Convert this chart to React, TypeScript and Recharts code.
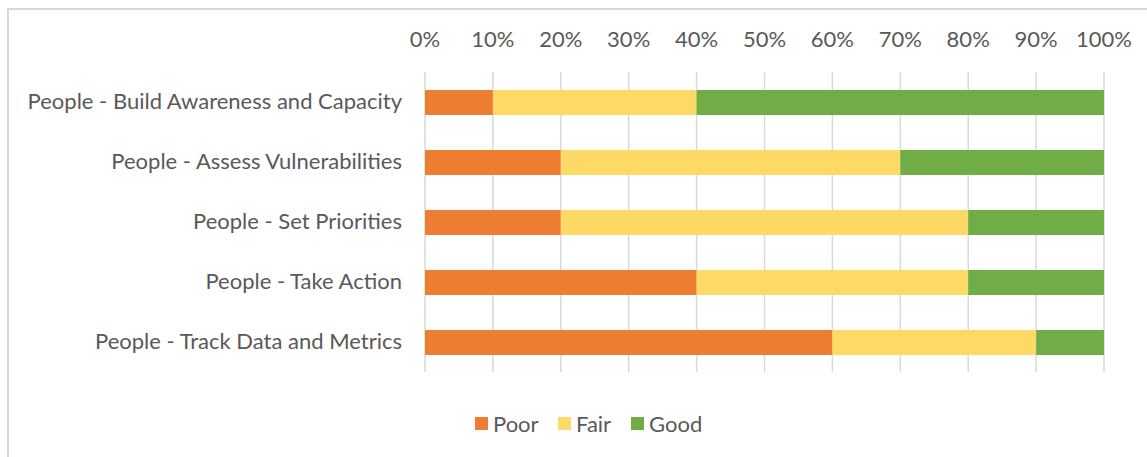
import React from "react";
import { BarChart, Bar, XAxis, YAxis, CartesianGrid } from "recharts";

const categories = [
  "People - Build Awareness and Capacity",
  "People - Assess Vulnerabilities",
  "People - Set Priorities",
  "People - Take Action",
  "People - Track Data and Metrics",
];
const poor = [10, 20, 20, 40, 60];
const fair = [30, 50, 60, 40, 30];
const good = [60, 30, 20, 20, 10];
const xTicks = [0, 10, 20, 30, 40, 50, 60, 70, 80, 90, 100];

const seriesNames = ["Poor", "Fair", "Good"];
const seriesKeys = ["poor", "fair", "good"];
const seriesColors = ["#ED7D31", "#FFD966", "#70AD47"];
const legendX = [475, 558, 631];

const data = categories.map((name, i) => ({
  name,
  poor: poor[i],
  fair: fair[i],
  good: good[i],
}));

const FONT = "Lato, 'Open Sans', sans-serif";
const TEXT = "#595959";

export default function App() {
  return (
    <div
      style={{
        position: "absolute",
        left: 0,
        top: 0,
        width: 1147,
        height: 457,
        overflow: "hidden",
        background: "#fff",
        fontFamily: FONT,
      }}
    >
      <div
        style={{
          position: "absolute",
          left: 7,
          top: 8,
          width: 1300,
          height: 600,
          border: "2px solid #d9d9d9",
        }}
      />
      <div style={{ position: "absolute", left: 0, top: 0 }}>
        <BarChart
          width={1147}
          height={457}
          data={data}
          layout="vertical"
          margin={{ top: 32, right: 43, bottom: 85, left: 0 }}
          barSize={25}
        >
          <CartesianGrid horizontal={false} stroke="#d9d9d9" strokeWidth={1.5} />
          <XAxis
            type="number"
            orientation="top"
            domain={[0, 100]}
            ticks={xTicks}
            tickFormatter={(v) => `${v}%`}
            axisLine={false}
            tickLine={false}
            tickSize={0}
            tickMargin={25}
            height={40}
            interval={0}
            tick={{ fill: TEXT, fontSize: 22, fontFamily: FONT }}
          />
          <YAxis
            type="category"
            dataKey="name"
            width={425}
            axisLine={false}
            tickLine={false}
            tickSize={0}
            tickMargin={23}
            interval={0}
            tick={{ fill: TEXT, fontSize: 22, fontFamily: FONT, dy: -1 }}
          />
          {seriesKeys.map((k, i) => (
            <Bar
              key={k}
              dataKey={k}
              name={seriesNames[i]}
              stackId="a"
              fill={seriesColors[i]}
              isAnimationActive={false}
            />
          ))}
        </BarChart>
      </div>
      {seriesNames.map((n, i) => (
        <div
          key={n}
          style={{
            position: "absolute",
            left: legendX[i],
            top: 409,
            height: 28,
            display: "flex",
            alignItems: "center",
            fontSize: 22,
            color: TEXT,
            fontFamily: FONT,
            whiteSpace: "nowrap",
          }}
        >
          <span
            style={{
              display: "inline-block",
              width: 13,
              height: 13,
              background: seriesColors[i],
              marginRight: 5,
            }}
          />
          <span>{n}</span>
        </div>
      ))}
    </div>
  );
}
